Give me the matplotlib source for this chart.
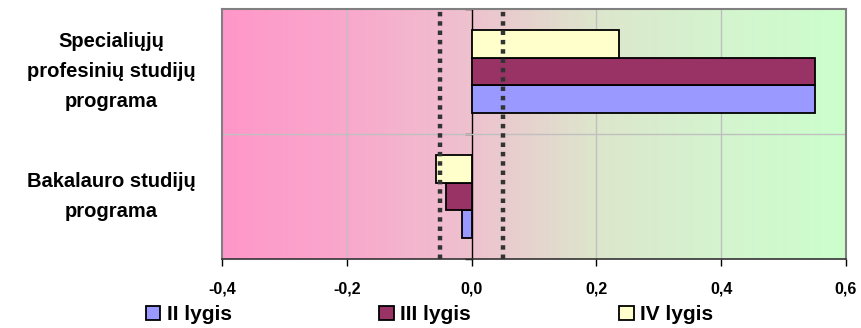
import numpy as np
import matplotlib
matplotlib.use("Agg")
import matplotlib.pyplot as plt
from matplotlib.colors import LinearSegmentedColormap
from matplotlib.patches import Patch

# data
categories = ["Bakalauro studijų\nprograma", "Specialiųjų\nprofesinių studijų\nprograma"]
series = ["II lygis", "III lygis", "IV lygis"]
ii_vals = [-0.015, 0.55]
iii_vals = [-0.041, 0.55]
iv_vals = [-0.057, 0.236]
limits = [-0.05, 0.05]
xticks = [-0.4, -0.2, 0.0, 0.2, 0.4, 0.6]
colors = ["#9999FF", "#993366", "#FFFFCC"]

plt.rcParams['font.family'] = ['Liberation Sans', 'DejaVu Sans']

fig = plt.figure(figsize=(8.62, 3.28), dpi=100)
ax = fig.add_axes([222/862, 69/328, 624/862, 250/328])

# gradient background (pink -> green, transition mostly in the middle)
cmap = LinearSegmentedColormap.from_list("bg", [
    (0.0, "#FF97C9"), (0.2, "#F9A8CC"), (0.4, "#EEC2CF"),
    (0.6, "#DDE6CC"), (0.8, "#D4F4CF"), (1.0, "#CCFFCC")])
grad = np.linspace(0, 1, 256).reshape(1, -1)
ax.imshow(grad, cmap=cmap, aspect="auto", extent=[-0.4, 0.6, -0.5, 1.5], zorder=0)

y = np.arange(len(categories))
h = 0.222
vals = [ii_vals, iii_vals, iv_vals]
for i, (v, c) in enumerate(zip(vals, colors)):
    ax.barh(y + (i - 1) * h, v, height=h, color=c, edgecolor="black", linewidth=1.3, zorder=3)

for lim in limits:
    ax.axvline(lim, color="#333333", lw=3.2, linestyle=(0, (1, 1.1)), zorder=4)

ax.set_xlim(-0.4, 0.6)
ax.set_ylim(-0.5, 1.5)
ax.set_xticks(xticks)
ax.set_xticklabels([("%.1f" % t).replace(".", ",") for t in xticks], fontsize=11.5, fontweight="bold")
ax.tick_params(axis="x", direction="out", length=5, width=1, color="black", pad=11)
ax.set_yticks([])
for t in [-0.2, 0.2, 0.4]:
    ax.axvline(t, color="#C0C0C0", lw=1, zorder=1)
ax.axhline(0.5, color="#C0C0C0", lw=1, zorder=1)

for s in ["left", "right", "top"]:
    ax.spines[s].set_color("#808080")
    ax.spines[s].set_linewidth(1.5)
ax.spines["bottom"].set_color("#333333")
ax.spines["bottom"].set_linewidth(1.2)

# value axis at zero
sec = ax.secondary_yaxis(0.4)
sec.set_yticks([-0.5, 0.5, 1.5])
sec.set_yticklabels([])
sec.tick_params(direction="out", length=5, width=1, color="black")
sec.spines["left"].set_color("black")
sec.spines["left"].set_linewidth(1)

for yi, lab in zip(y, categories):
    ax.text(-0.178, yi, lab, transform=ax.get_yaxis_transform(), ha="center", va="center",
            fontsize=14.5, fontweight="bold", linespacing=1.75)

handles = [Patch(facecolor=c, edgecolor="black", linewidth=1.3) for c in colors]
fig.legend(handles, series, loc="center", bbox_to_anchor=(0.498, 0.04), ncol=3, frameon=False,
           prop={"size": 15, "weight": "bold"}, handlelength=0.7, handleheight=0.6,
           handletextpad=0.3, columnspacing=7.1, borderpad=0)

fig.savefig("out.png", dpi=100)
